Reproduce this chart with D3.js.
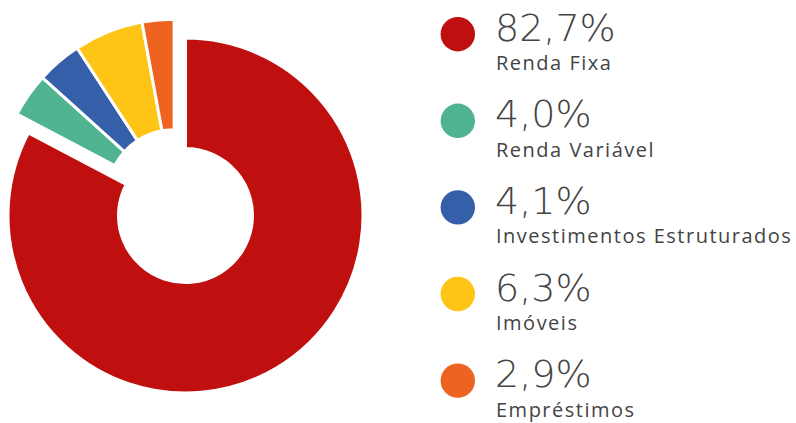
<!DOCTYPE html>
<html>
<head>
<meta charset="utf-8">
<script src="https://cdn.jsdelivr.net/npm/d3@7"></script>
<style>
  body { margin: 0; background: #fff; }
  text { fill: #444; }
</style>
</head>
<body>
<script>
// data
var categories = ["Renda Fixa", "Renda Variável", "Investimentos Estruturados", "Imóveis", "Empréstimos"];
var values = [82.7, 4.0, 4.1, 6.3, 2.9];
var percentLabels = ["82,7%", "4,0%", "4,1%", "6,3%", "2,9%"];
var colors = ["#bf0f0f", "#4fb48f", "#365faa", "#fec416", "#ee631f"];

var svg = d3.select("body").append("svg")
    .attr("width", 796)
    .attr("height", 423);

// donut
var cx = 185.5, cy = 215.5;
var outer = 177.5, inner = 67;
var offset = 22; // small slices pulled out together

var pie = d3.pie().sort(null).value(function(d) { return d; });
var arcs = pie(values);
var arc = d3.arc().innerRadius(inner).outerRadius(outer);

// direction for the group of small slices
var gStart = arcs[1].startAngle, gEnd = arcs[arcs.length - 1].endAngle;
var mid = (gStart + gEnd) / 2;
var dx = Math.sin(mid) * offset, dy = -Math.cos(mid) * offset;

var g = svg.append("g")
    .attr("transform", "translate(" + cx + "," + cy + ")");

g.selectAll("path")
    .data(arcs)
    .enter().append("path")
    .attr("d", arc)
    .attr("fill", function(d, i) { return colors[i]; })
    .attr("stroke", "#fff")
    .attr("stroke-width", 3)
    .attr("stroke-linejoin", "miter")
    .attr("transform", function(d, i) {
        return i == 0 ? null : "translate(" + dx + "," + dy + ")";
    });

// legend
var rowY = d3.scalePoint()
    .domain(categories)
    .range([40.7, 387.1]);

var legend = svg.append("g");
var rows = legend.selectAll("g")
    .data(categories)
    .enter().append("g")
    .attr("transform", function(d) { return "translate(0," + rowY(d) + ")"; });

rows.append("circle")
    .attr("cx", 457.8)
    .attr("cy", -6.5)
    .attr("r", 17.2)
    .attr("fill", function(d, i) { return colors[i]; });

rows.append("text")
    .attr("x", 495)
    .attr("y", 0)
    .style("font-family", "'DejaVu Sans', sans-serif")
    .style("font-size", "38px")
    .style("font-weight", 200)
    .text(function(d, i) { return percentLabels[i]; });

rows.append("text")
    .attr("x", 496)
    .attr("y", 29.5)
    .style("font-family", "'Open Sans', sans-serif")
    .style("font-size", "20px")
    .style("font-weight", 400)
    .style("letter-spacing", "1.5px")
    .text(function(d) { return d; });
</script>
</body>
</html>
